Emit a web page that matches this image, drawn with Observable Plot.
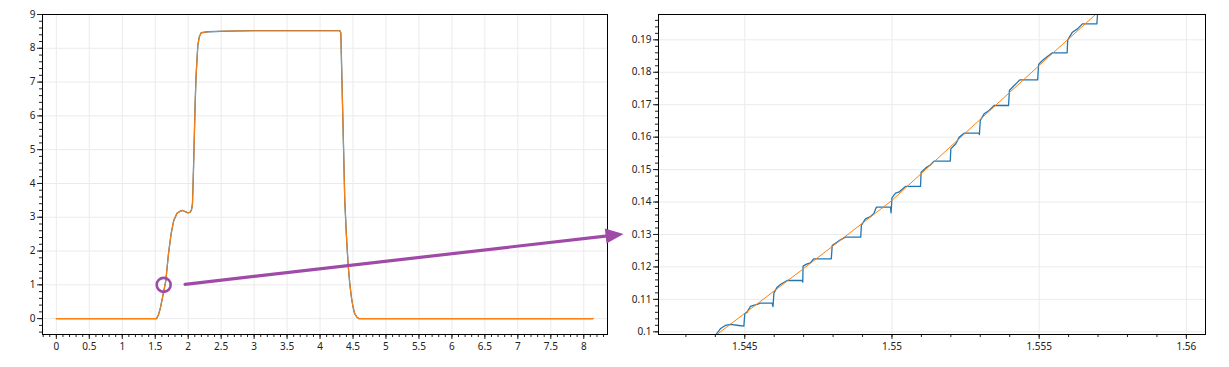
<!DOCTYPE html>
<html><head><meta charset="utf-8">
<script src="https://cdn.jsdelivr.net/npm/d3@7"></script>
<script src="https://cdn.jsdelivr.net/npm/@observablehq/plot@0.6"></script>
<style>
body{margin:0;background:#fff;}
#wrap{position:relative;width:1229px;height:367px;overflow:hidden;}
#left{position:absolute;left:0;top:0;}
#right{position:absolute;left:614px;top:0;}
#over{position:absolute;left:0;top:0;pointer-events:none;}
</style></head><body>
<div id="wrap"><div id="left"></div><div id="right"></div><svg id="over" width="1229" height="367"></svg></div>
<script>
// ---- overview signal (left panel) ----
const overviewX = [0, 1.52, 1.55, 1.58, 1.62, 1.66, 1.70, 1.74, 1.78, 1.83, 1.88, 1.92, 1.96, 2.00, 2.03, 2.05, 2.065, 2.08, 2.106, 2.12, 2.146, 2.17, 2.197, 2.3, 2.6, 3.0, 4.30, 4.315, 4.34, 4.375, 4.40, 4.425, 4.45, 4.475, 4.50, 4.525, 4.56, 4.59, 4.65, 8.14];
const overviewY = [0, 0, 0.12, 0.33, 0.72, 1.12, 1.9, 2.5, 2.9, 3.12, 3.18, 3.2, 3.16, 3.13, 3.15, 3.22, 3.4, 4.4, 6.4, 7.2, 8.09, 8.35, 8.46, 8.49, 8.51, 8.52, 8.52, 8.45, 6.4, 3.5, 2.45, 1.62, 1.05, 0.64, 0.35, 0.15, 0.04, 0.0, 0, 0];

// ---- zoomed detail (right panel) ----
const zoomBlueX = [1.54392,1.54404,1.54417,1.54434,1.54451,1.5448,1.54497,1.545,1.54508,1.54519,1.54542,1.54553,1.54593,1.54596,1.54599,1.5461,1.54621,1.54644,1.54695,1.54697,1.54698,1.54712,1.54723,1.54734,1.54794,1.54797,1.54814,1.54825,1.54842,1.54894,1.54896,1.5491,1.54927,1.54938,1.54947,1.54995,1.54997,1.55,1.55012,1.55023,1.55046,1.55097,1.55099,1.55114,1.55131,1.55143,1.55198,1.552,1.55217,1.55228,1.55245,1.55296,1.55297,1.553,1.55313,1.5533,1.55347,1.55396,1.55399,1.55415,1.55435,1.55495,1.55498,1.55511,1.55528,1.55545,1.55595,1.55597,1.55613,1.5563,1.55647,1.55696,1.55698,1.557];
const zoomBlueY = [0.0981,0.09938,0.10092,0.10195,0.10226,0.10195,0.10175,0.10555,0.10606,0.10781,0.10842,0.10884,0.10884,0.10781,0.11192,0.11377,0.11459,0.11582,0.11582,0.11531,0.12024,0.12096,0.12127,0.1225,0.1225,0.12661,0.12764,0.12836,0.12918,0.12918,0.13278,0.13483,0.13555,0.13637,0.13843,0.13843,0.13668,0.1413,0.14274,0.14305,0.1448,0.1448,0.14921,0.15045,0.15148,0.1526,0.1526,0.1564,0.15795,0.16,0.16124,0.16124,0.16082,0.16514,0.1672,0.16822,0.16976,0.16976,0.17439,0.17593,0.17767,0.17767,0.1824,0.18363,0.18487,0.186,0.186,0.19,0.19236,0.19339,0.19493,0.19493,0.1975,0.2021];
const zoomOrangeX = [1.5439, 1.5450, 1.5470, 1.5500, 1.5530, 1.5550, 1.5575];
const zoomOrangeY = [0.0981, 0.1057, 0.1195, 0.1405, 0.1655, 0.1821, 0.2026];

// ---- ticks ----
const leftXTicks = [0, 0.5, 1, 1.5, 2, 2.5, 3, 3.5, 4, 4.5, 5, 5.5, 6, 6.5, 7, 7.5, 8];
const leftYTicks = [0, 1, 2, 3, 4, 5, 6, 7, 8, 9];
const rightXTicks = [1.545, 1.55, 1.555, 1.56];
const rightYTicks = [0.1, 0.11, 0.12, 0.13, 0.14, 0.15, 0.16, 0.17, 0.18, 0.19];
const leftXMinor = d3.range(-2, 84).map(i => i / 10);
const leftYMinor = d3.range(-2, 46).map(i => i * 0.2);
const rightXMinor = d3.range(1543, 1561).map(i => i / 1000);
const rightYMinor = d3.range(50, 99).map(i => i * 0.002);

// ---- annotation ----
const marker = [{x: 1.628, y: 1.0}];
const arrowFrom = {x: 1.96, y: 1.0};     // left panel coordinates
const arrowTo = {x: 1.5409, y: 0.13};    // right panel coordinates (just left of the "0.13" label)

const BLUE = "#1f77b4", ORANGE = "#ff7f0e", PURPLE = "#9f4aa7", GRID = "#ebebeb";
const overview = overviewX.map((x, i) => ({x, y: overviewY[i]}));
const zBlue = zoomBlueX.map((x, i) => ({x, y: zoomBlueY[i]}));
const zOrange = zoomOrangeX.map((x, i) => ({x, y: zoomOrangeY[i]}));
const fmt = d => String(d);
const style = {fontFamily: "'Noto Sans', sans-serif", fontSize: "10px", color: "#222", background: "transparent", overflow: "visible"};

const leftPlot = Plot.plot({
  width: 614, height: 367,
  marginLeft: 42, marginRight: 7, marginTop: 14, marginBottom: 33,
  style,
  x: {domain: [-0.21, 8.36]},
  y: {domain: [-0.47, 9]},
  marks: [
    Plot.gridX(leftXTicks, {stroke: GRID, strokeOpacity: 1}),
    Plot.gridY(leftYTicks, {stroke: GRID, strokeOpacity: 1}),
    Plot.axisX(leftXMinor, {tickSize: 3, tickFormat: () => "", label: null}),
    Plot.axisX(leftXTicks, {tickSize: 5, tickPadding: 3, tickFormat: fmt, label: null}),
    Plot.axisY(leftYMinor, {tickSize: 3, tickFormat: () => "", label: null}),
    Plot.axisY(leftYTicks, {tickSize: 5, tickPadding: 2, tickFormat: fmt, label: null}),
    Plot.line(overview, {x: "x", y: "y", stroke: BLUE, strokeWidth: 1.3, clip: true}),
    Plot.line(overview, {x: "x", y: "y", stroke: ORANGE, strokeWidth: 1.1, clip: true}),
    Plot.dot(marker, {x: "x", y: "y", r: 7, stroke: PURPLE, strokeWidth: 2.6, fill: "none"}),
    Plot.frame({stroke: "black", strokeWidth: 1})
  ]
});
document.getElementById("left").appendChild(leftPlot);

const rightPlot = Plot.plot({
  width: 615, height: 367,
  marginLeft: 44, marginRight: 24, marginTop: 14, marginBottom: 33,
  style,
  x: {domain: [1.54207, 1.56065]},
  y: {domain: [0.09917, 0.19781]},
  marks: [
    Plot.gridX(rightXTicks, {stroke: GRID, strokeOpacity: 1}),
    Plot.gridY(rightYTicks, {stroke: GRID, strokeOpacity: 1}),
    Plot.axisX(rightXMinor, {tickSize: 3, tickFormat: () => "", label: null}),
    Plot.axisX(rightXTicks, {tickSize: 5, tickPadding: 3, tickFormat: fmt, label: null}),
    Plot.axisY(rightYMinor, {tickSize: 3, tickFormat: () => "", label: null}),
    Plot.axisY(rightYTicks, {tickSize: 5, tickPadding: 2, tickFormat: fmt, label: null}),
    Plot.line(zBlue, {x: "x", y: "y", stroke: BLUE, strokeWidth: 1.3, clip: true}),
    Plot.line(zOrange, {x: "x", y: "y", stroke: ORANGE, strokeWidth: 1, clip: true}),
    Plot.frame({stroke: "black", strokeWidth: 1})
  ]
});
document.getElementById("right").appendChild(rightPlot);

// ---- arrow overlay, positioned through the two plots' scales ----
const rightOffset = document.getElementById("right").offsetLeft;
const x1 = leftPlot.scale("x").apply(arrowFrom.x), y1 = leftPlot.scale("y").apply(arrowFrom.y);
const x2 = rightOffset + rightPlot.scale("x").apply(arrowTo.x), y2 = rightPlot.scale("y").apply(arrowTo.y);
const dx = x2 - x1, dy = y2 - y1, len = Math.hypot(dx, dy), ux = dx / len, uy = dy / len;
const headLen = 18, headHalf = 7.5;
const bx = x2 - ux * headLen, by = y2 - uy * headLen;
const over = d3.select("#over");
over.append("line").attr("x1", x1).attr("y1", y1).attr("x2", bx + ux * 2).attr("y2", by + uy * 2)
  .attr("stroke", PURPLE).attr("stroke-width", 3.2).attr("stroke-linecap", "round");
over.append("path")
  .attr("d", `M${x2},${y2}L${bx - uy * headHalf},${by + ux * headHalf}L${bx + uy * headHalf},${by - ux * headHalf}Z`)
  .attr("fill", PURPLE);
</script>
</body></html>
